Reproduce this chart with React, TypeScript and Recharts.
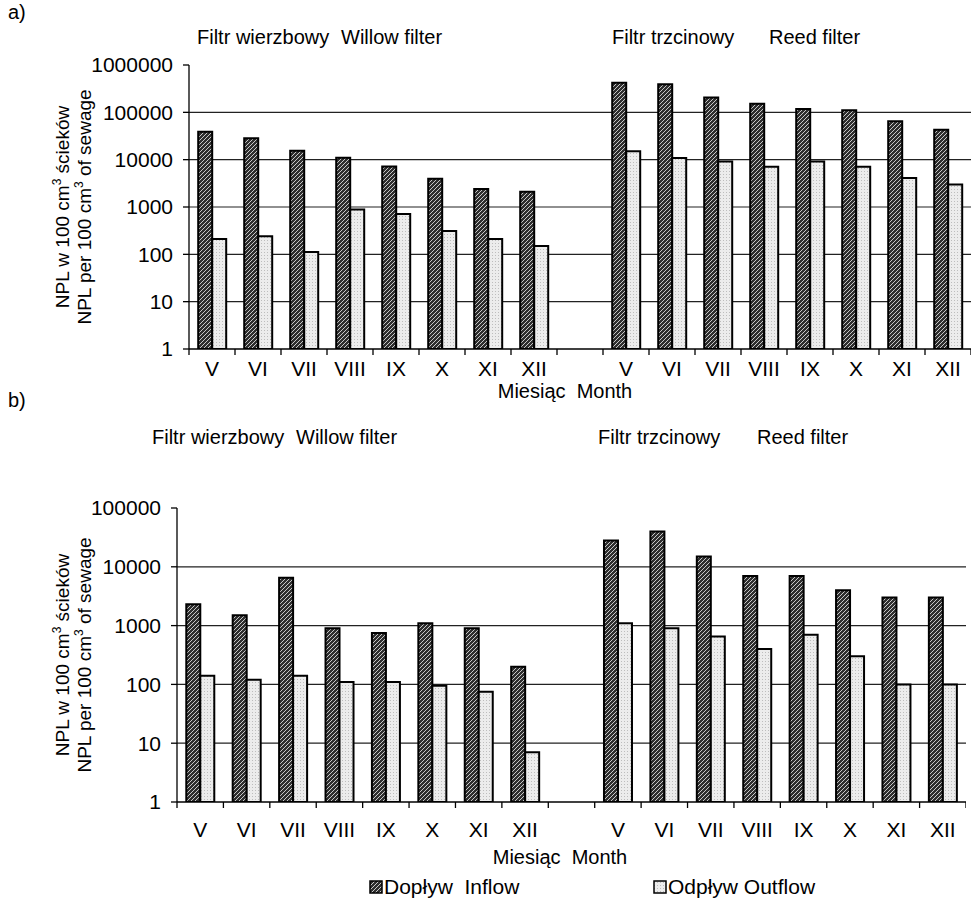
import React from 'react';
import { BarChart, Bar, XAxis, YAxis, CartesianGrid } from 'recharts';

const FONT = '"Liberation Sans", Arial, Helvetica, sans-serif';
const TICK_FS = 21;
const TITLE_FS = 20;
const YTITLE_FS = 19;

const months = ['V', 'VI', 'VII', 'VIII', 'IX', 'X', 'XI', 'XII'];
const seriesNames = ['Dopływ  Inflow', 'Odpływ Outflow'];
const groupTitlesPl = ['Filtr wierzbowy', 'Filtr trzcinowy'];
const groupTitlesEn = ['Willow filter', 'Reed filter'];
const xAxisTitle = 'Miesiąc  Month';
const yTicksA = [1, 10, 100, 1000, 10000, 100000, 1000000];
const yTicksB = [1, 10, 100, 1000, 10000, 100000];
const gridA = [10, 100, 1000, 10000, 100000];
const gridB = [10, 100, 1000, 10000];

// a)
const willowInflowA = [39000, 28500, 15400, 11000, 7200, 3950, 2400, 2100];
const willowOutflowA = [210, 240, 112, 890, 710, 310, 210, 150];
const reedInflowA = [420000, 390000, 207000, 151000, 117000, 110000, 65000, 43000];
const reedOutflowA = [15000, 10800, 9200, 7100, 9200, 7100, 4100, 2970];
// b)
const willowInflowB = [2300, 1500, 6500, 900, 750, 1100, 900, 200];
const willowOutflowB = [140, 120, 140, 110, 110, 95, 75, 7];
const reedInflowB = [28000, 40000, 15000, 7000, 7000, 4000, 3000, 3000];
const reedOutflowB = [1100, 900, 650, 400, 700, 300, 100, 100];

const categories = [...months, '', ...months];

function buildRows(wi: number[], wo: number[], ri: number[], ro: number[]) {
  return categories.map((c, i) => {
    if (i < 8) return { cat: c, inflow: wi[i], outflow: wo[i] };
    if (i === 8) return { cat: '', inflow: null, outflow: null };
    return { cat: c, inflow: ri[i - 9], outflow: ro[i - 9] };
  });
}

const dataA = buildRows(willowInflowA, willowOutflowA, reedInflowA, reedOutflowA);
const dataB = buildRows(willowInflowB, willowOutflowB, reedInflowB, reedOutflowB);

function makeXTick(labelDy: number, count: number, fallbackHalf: number) {
  return (props: any) => {
    const { x, y, payload, index } = props;
    const half = payload && typeof payload.offset === 'number' && payload.offset > 0 ? payload.offset : fallbackHalf;
    return (
      <g>
        <line x1={x - half} x2={x - half} y1={y} y2={y + 6} stroke="#000" strokeWidth={1.3} />
        {index === count - 1 && (
          <line x1={x + half} x2={x + half} y1={y} y2={y + 6} stroke="#000" strokeWidth={1.3} />
        )}
        <text x={x} y={y + labelDy} textAnchor="middle" fontSize={TICK_FS} fontFamily={FONT} fill="#000">
          {payload.value}
        </text>
      </g>
    );
  };
}

const Patterns = ({ suffix = '' }: { suffix?: string }) => (
  <defs>
    <pattern id={'hatchDark' + suffix} width="4" height="4" patternUnits="userSpaceOnUse">
      <rect width="4" height="4" fill="#2e2e2e" />
      <path d="M-1,1 l2,-2 M0,4 l4,-4 M3,5 l2,-2" stroke="#d8d8d8" strokeWidth="0.9" />
    </pattern>
    <pattern id={'dotsLight' + suffix} width="3" height="3" patternUnits="userSpaceOnUse">
      <rect width="3" height="3" fill="#ececec" />
      <rect width="1" height="1" fill="#bdbdbd" />
    </pattern>
  </defs>
);

type PanelProps = {
  data: any[];
  top: number;
  height: number;
  yWidth: number;
  marginTop: number;
  marginBottom: number;
  rightEdge: number;
  ticks: number[];
  grid: number[];
  domainMax: number;
  labelDy: number;
};

function Panel(p: PanelProps) {
  const plotW = p.rightEdge - p.yWidth;
  return (
    <div style={{ position: 'absolute', left: 0, top: p.top }}>
      <BarChart
        width={p.rightEdge}
        height={p.height}
        data={p.data}
        margin={{ top: p.marginTop, right: 0, bottom: p.marginBottom, left: 0 }}
        barCategoryGap="20%"
        barGap={0}
      >
        <Patterns />
        <CartesianGrid horizontal vertical={false} horizontalValues={p.grid} stroke="#222" strokeWidth={1.2} />
        <XAxis
          dataKey="cat"
          interval={0}
          tickLine={false}
          tickSize={0}
          tickMargin={0}
          height={30}
          axisLine={{ stroke: '#000', strokeWidth: 1.3 }}
          tick={makeXTick(p.labelDy, categories.length, plotW / categories.length / 2)}
        />
        <YAxis
          scale="log"
          domain={[1, p.domainMax]}
          ticks={p.ticks}
          allowDataOverflow
          width={p.yWidth}
          interval={0}
          tickSize={6}
          tickMargin={10}
          axisLine={{ stroke: '#000', strokeWidth: 1.3 }}
          tickLine={{ stroke: '#000', strokeWidth: 1.3 }}
          tick={{ fill: '#000', fontSize: TICK_FS, fontFamily: FONT }}
        />
        <Bar dataKey="inflow" name={seriesNames[0]} fill="url(#hatchDark)" stroke="#000" strokeWidth={2} isAnimationActive={false} />
        <Bar dataKey="outflow" name={seriesNames[1]} fill="url(#dotsLight)" stroke="#000" strokeWidth={2} isAnimationActive={false} />
      </BarChart>
    </div>
  );
}

const YTitle = ({ x1, x2, cy }: { x1: number; x2: number; cy: number }) => (
  <g fontFamily={FONT} fontSize={YTITLE_FS} fill="#000">
    <text transform={`translate(${x1},${cy}) rotate(-90)`} textAnchor="middle" dy="0.35em">
      NPL w 100 cm<tspan fontSize={12} dy={-8}>3</tspan>
      <tspan dy={8}> ścieków</tspan>
    </text>
    <text transform={`translate(${x2},${cy}) rotate(-90)`} textAnchor="middle" dy="0.35em">
      NPL per 100 cm<tspan fontSize={12} dy={-8}>3</tspan>
      <tspan dy={8}> of sewage</tspan>
    </text>
  </g>
);

export default function App() {
  return (
    <div style={{ position: 'absolute', left: 0, top: 0, width: 971, height: 912, background: '#fff', overflow: 'hidden' }}>
      <Panel
        data={dataA}
        top={0}
        height={400}
        yWidth={189}
        marginTop={65}
        marginBottom={21}
        rightEdge={971}
        ticks={yTicksA}
        grid={gridA}
        domainMax={1000000}
        labelDy={27}
      />
      <Panel
        data={dataB}
        top={400}
        height={512}
        yWidth={177}
        marginTop={108}
        marginBottom={80}
        rightEdge={966}
        ticks={yTicksB}
        grid={gridB}
        domainMax={100000}
        labelDy={35}
      />
      <svg width={971} height={912} style={{ position: 'absolute', left: 0, top: 0, pointerEvents: 'none' }}>
        <Patterns suffix="L" />
        <g fontFamily={FONT} fontSize={TITLE_FS} fill="#000">
          <text x={8} y={19}>a)</text>
          <text x={197} y={44}>{groupTitlesPl[0]}</text>
          <text x={341} y={44}>{groupTitlesEn[0]}</text>
          <text x={612} y={44}>{groupTitlesPl[1]}</text>
          <text x={769} y={44}>{groupTitlesEn[1]}</text>
          <text x={565} y={398} textAnchor="middle" style={{ whiteSpace: 'pre' }}>{xAxisTitle}</text>
          <text x={8} y={407}>b)</text>
          <text x={152} y={444}>{groupTitlesPl[0]}</text>
          <text x={296} y={444}>{groupTitlesEn[0]}</text>
          <text x={598} y={444}>{groupTitlesPl[1]}</text>
          <text x={757} y={444}>{groupTitlesEn[1]}</text>
          <text x={560} y={864} textAnchor="middle" style={{ whiteSpace: 'pre' }}>{xAxisTitle}</text>
        </g>
        <g fontFamily={FONT} fontSize={TICK_FS} fill="#000">
          <rect x={370} y={881} width={12} height={12} fill="url(#hatchDarkL)" stroke="#000" strokeWidth={1.5} />
          <text x={384} y={894} style={{ whiteSpace: 'pre' }}>{seriesNames[0]}</text>
          <rect x={654} y={881} width={12} height={12} fill="url(#dotsLightL)" stroke="#000" strokeWidth={1.5} />
          <text x={668} y={894} style={{ whiteSpace: 'pre' }}>{seriesNames[1]}</text>
        </g>
        <YTitle x1={62} x2={84} cy={207} />
        <YTitle x1={62} x2={84} cy={655} />
      </svg>
    </div>
  );
}
